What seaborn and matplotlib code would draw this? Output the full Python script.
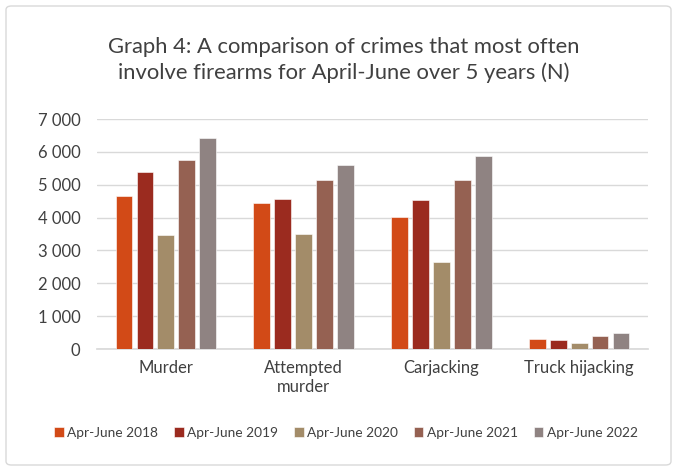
import pandas as pd
import matplotlib
matplotlib.use("Agg")
import matplotlib.pyplot as plt
from matplotlib.ticker import FuncFormatter
from matplotlib.patches import FancyBboxPatch
import seaborn as sns

# Data
categories = ["Murder", "Attempted\nmurder", "Carjacking", "Truck hijacking"]
periods = ["Apr-June 2018", "Apr-June 2019", "Apr-June 2020", "Apr-June 2021", "Apr-June 2022"]
values_2018 = [4665, 4430, 4003, 305]
values_2019 = [5396, 4573, 4543, 264]
values_2020 = [3466, 3485, 2662, 173]
values_2021 = [5762, 5143, 5152, 386]
values_2022 = [6433, 5589, 5875, 488]
colors = ["#D24A17", "#9B2B1F", "#A38C69", "#956152", "#8F8382"]

all_values = [values_2018, values_2019, values_2020, values_2021, values_2022]
rows = []
for period, vals in zip(periods, all_values):
    for cat, v in zip(categories, vals):
        rows.append({"category": cat, "period": period, "value": v})
df = pd.DataFrame(rows)

sns.set_theme(style="white")
plt.rcParams["font.family"] = ["Lato", "DejaVu Sans"]

fig = plt.figure(figsize=(6.77, 4.71), dpi=100)
ax = fig.add_axes([97 / 677, 1 - 349 / 471, 551 / 677, 230 / 471])

# chart border
fig.patches.append(FancyBboxPatch((6 / 677, 6 / 471), 665 / 677, 459 / 471,
                                  boxstyle="round,pad=0,rounding_size=0.008",
                                  transform=fig.transFigure, fill=False,
                                  edgecolor="#D9D9D9", linewidth=1))

sns.barplot(data=df, x="category", y="value", hue="period", hue_order=periods,
            palette=colors, saturation=1, width=0.76, gap=0.2, ax=ax,
            edgecolor="white", linewidth=0.4, errorbar=None, zorder=3)

ax.set_ylim(0, 7000)
ax.set_yticks(range(0, 7001, 1000))
ax.yaxis.set_major_formatter(FuncFormatter(lambda v, p: f"{int(v):,}".replace(",", " ")))
ax.grid(axis="y", color="#D9D9D9", linewidth=1, zorder=0)
for s in ["top", "right", "left"]:
    ax.spines[s].set_visible(False)
ax.spines["bottom"].set_color("#D9D9D9")
ax.tick_params(axis="y", length=0, labelsize=12, labelcolor="#404040", pad=12)
ax.tick_params(axis="x", length=0, labelsize=12, labelcolor="#404040", pad=8)
ax.set_xlabel("")
ax.set_ylabel("")

fig.text(344 / 677, 1 - 60 / 471,
         "Graph 4: A comparison of crimes that most often\ninvolve firearms for April-June over 5 years (N)",
         ha="center", va="center", fontsize=15.8, color="#404040", linespacing=1.35)

ax.legend(loc="center", bbox_to_anchor=((346 - 97) / 551, (349 - 433) / 230), ncol=5, frameon=False,
          fontsize=9.9, handlelength=0.7, handleheight=0.7, handletextpad=0.25,
          columnspacing=1.15, labelcolor="#404040")

fig.savefig("out.png", dpi=100)
